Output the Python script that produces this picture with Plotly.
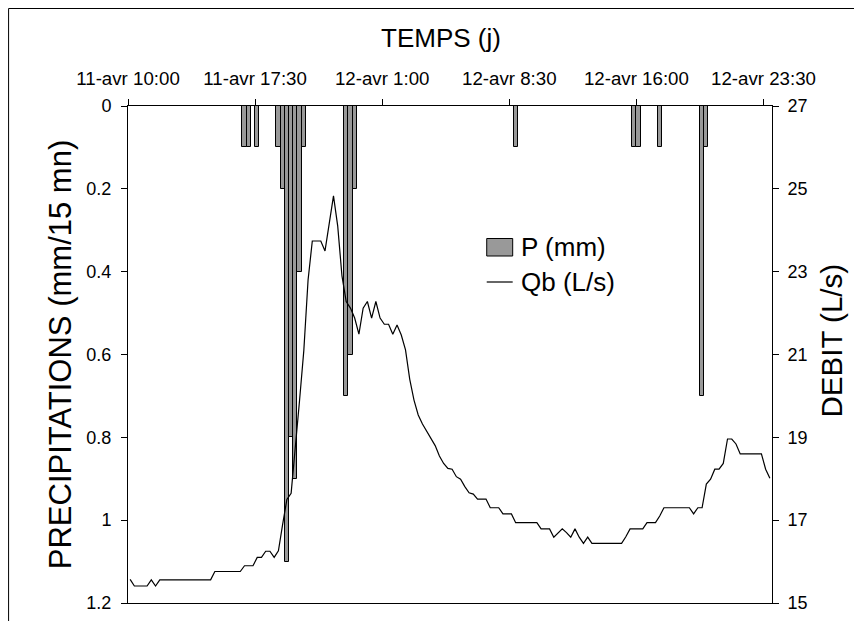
import plotly.graph_objects as go
import pandas as pd

# ---------------- data ----------------
start_time = "2008-04-11 10:00"
end_time = "2008-04-13 00:00"

# Discharge Qb (L/s), one value every 15 min from start_time
q_values = [
    15.57, 15.41, 15.41, 15.41, 15.41, 15.56, 15.41, 15.56,
    15.56, 15.56, 15.56, 15.56, 15.56, 15.56, 15.56, 15.56, 15.56, 15.56, 15.56, 15.56,
    15.76, 15.76, 15.76, 15.76, 15.76, 15.76, 15.76,
    15.90, 15.90, 15.90, 16.10, 16.10, 16.25, 16.25, 16.10, 16.26,
    16.90, 17.50, 17.65, 18.70, 19.90, 21.10, 22.80,
    23.74, 23.74, 23.74, 23.50, 24.20, 24.83, 24.10, 22.90,
    22.28, 22.12, 21.88, 21.49, 22.12, 22.28, 21.88, 22.28, 21.88,
    21.73, 21.73, 21.49, 21.71, 21.47, 21.11, 20.40, 19.90,
    19.54, 19.32, 19.15, 19.00, 18.80, 18.55, 18.37, 18.25, 18.23,
    18.05, 17.99, 17.81, 17.66, 17.63, 17.51, 17.51, 17.51,
    17.30, 17.30, 17.30, 17.15, 17.15, 17.15,
    16.94, 16.94, 16.94, 16.94, 16.94, 16.94,
    16.79, 16.79, 16.79, 16.59, 16.70, 16.79, 16.70, 16.59, 16.79, 16.59,
    16.44, 16.59, 16.44, 16.44, 16.44, 16.44, 16.44, 16.44, 16.44, 16.44,
    16.60, 16.79, 16.79, 16.79, 16.79, 16.94, 16.94, 16.94, 17.10,
    17.30, 17.30, 17.30, 17.30, 17.30, 17.30, 17.30, 17.15, 17.30, 17.30,
    17.87, 17.99, 18.23, 18.23, 18.37, 18.96, 18.96, 18.84,
    18.60, 18.60, 18.60, 18.60, 18.60, 18.60, 18.23, 18.01,
]

# Rainfall P (mm per 15 min), start of each 15-min interval
rain_times = [
    "2008-04-11 16:45", "2008-04-11 17:00", "2008-04-11 17:30",
    "2008-04-11 18:45", "2008-04-11 19:00", "2008-04-11 19:15", "2008-04-11 19:30",
    "2008-04-11 19:45", "2008-04-11 20:00", "2008-04-11 20:15",
    "2008-04-11 22:45", "2008-04-11 23:00", "2008-04-11 23:15",
    "2008-04-12 08:45", "2008-04-12 15:45", "2008-04-12 16:00", "2008-04-12 17:15",
    "2008-04-12 19:45", "2008-04-12 20:00",
]
rain_mm = [
    0.1, 0.1, 0.1,
    0.1, 0.2, 1.1, 0.8,
    0.9, 0.4, 0.1,
    0.7, 0.6, 0.2,
    0.1, 0.1, 0.1, 0.1,
    0.7, 0.1,
]

tick_times = ["2008-04-11 10:00", "2008-04-11 17:30", "2008-04-12 01:00",
              "2008-04-12 08:30", "2008-04-12 16:00", "2008-04-12 23:30"]
tick_labels = ["11-avr 10:00", "11-avr 17:30", "12-avr 1:00",
               "12-avr 8:30", "12-avr 16:00", "12-avr 23:30"]
p_ticks = [0, 0.2, 0.4, 0.6, 0.8, 1, 1.2]
q_ticks = [15, 17, 19, 21, 23, 25, 27]

# ---------------- figure ----------------
step = pd.Timedelta(minutes=15)
t0 = pd.Timestamp(start_time)
q_times = pd.date_range(t0, periods=len(q_values), freq="15min") + step / 2
r_times = pd.to_datetime(rain_times) + step / 2

FONT = "Liberation Sans, Arial, sans-serif"

fig = go.Figure()
fig.add_trace(go.Bar(
    x=r_times, y=rain_mm, name="P (mm)",
    width=step.total_seconds() * 1000,
    marker=dict(color="#999999", line=dict(color="black", width=1)),
    xaxis="x", yaxis="y",
))
fig.add_trace(go.Scatter(
    x=q_times, y=q_values, name="Qb (L/s)", mode="lines",
    line=dict(color="black", width=1.2),
    xaxis="x", yaxis="y2",
))

W, H = 848, 613
L, T = 120, 98
R = W - 764.5
B = H - 595
pw, ph = W - L - R, H - T - B
OFF = 8  # page offset of the figure in the screenshot


def px(xr):
    return (xr - OFF - L) / pw


def py(yr):
    return (H - B - (yr - OFF)) / ph


common = dict(showgrid=False, zeroline=False, linecolor="black", linewidth=1,
              tickcolor="black", tickwidth=1, automargin=False)

fig.update_layout(
    width=W, height=H,
    margin=dict(l=L, r=R, t=T, b=B),
    paper_bgcolor="white", plot_bgcolor="white",
    showlegend=False,
    font=dict(family=FONT, color="black", size=18),
    bargap=0,
    xaxis=dict(
        type="date", side="top", range=[start_time, end_time],
        tickvals=tick_times, ticktext=tick_labels,
        ticks="outside", ticklen=6, showline=True, mirror=True,
        tickfont=dict(size=18.7), ticklabelstandoff=7,
        **common,
    ),
    yaxis=dict(
        range=[1.2, 0], tickvals=p_ticks,
        ticks="outside", ticklen=6, showline=True,
        tickfont=dict(size=18), ticklabelstandoff=6,
        title=dict(text="PRECIPITATIONS (mm/15 mn)", font=dict(size=31), standoff=5),
        **common,
    ),
    yaxis2=dict(
        range=[15, 27], tickvals=q_ticks,
        overlaying="y", side="right", anchor="x",
        ticks="outside", ticklen=6, showline=True,
        tickfont=dict(size=18), ticklabelstandoff=5,
        **common,
    ),
    yaxis3=dict(
        range=[1.2, 0], tickvals=p_ticks,
        overlaying="y", side="left", anchor="x",
        ticks="inside", ticklen=6, showticklabels=False, showline=False,
        **common,
    ),
    yaxis4=dict(
        range=[15, 27], tickvals=q_ticks,
        overlaying="y", side="right", anchor="x",
        ticks="inside", ticklen=6, showticklabels=False, showline=False,
        **common,
    ),
)

# axis titles placed as in the reference
fig.add_annotation(text="TEMPS (j)", xref="paper", yref="paper",
                   x=px(441), y=py(38), xanchor="center", yanchor="middle",
                   showarrow=False, font=dict(size=26))
fig.add_annotation(text="DEBIT (L/s)", xref="paper", yref="paper",
                   x=px(832), y=py(340), xanchor="center", yanchor="middle",
                   textangle=-90, showarrow=False, font=dict(size=29.5))

# manual legend
fig.add_shape(type="rect", xref="paper", yref="paper",
              x0=px(487), x1=px(513), y0=py(256), y1=py(238.5),
              fillcolor="#999999", line=dict(color="black", width=1))
fig.add_shape(type="line", xref="paper", yref="paper",
              x0=px(487), x1=px(513), y0=py(282), y1=py(282),
              line=dict(color="black", width=1.2))
fig.add_annotation(text="P (mm)", xref="paper", yref="paper",
                   x=px(519), y=py(247), xanchor="left", yanchor="middle",
                   showarrow=False, font=dict(size=26))
fig.add_annotation(text="Qb (L/s)", xref="paper", yref="paper",
                   x=px(519), y=py(282), xanchor="left", yanchor="middle",
                   showarrow=False, font=dict(size=26))

# outer chart frame
fig.add_shape(type="rect", xref="paper", yref="paper",
              x0=px(8.5), x1=px(855.5), y0=py(640), y1=py(8.5),
              line=dict(color="black", width=1), fillcolor="rgba(0,0,0,0)",
              layer="below")

fig.write_html("out.html")
